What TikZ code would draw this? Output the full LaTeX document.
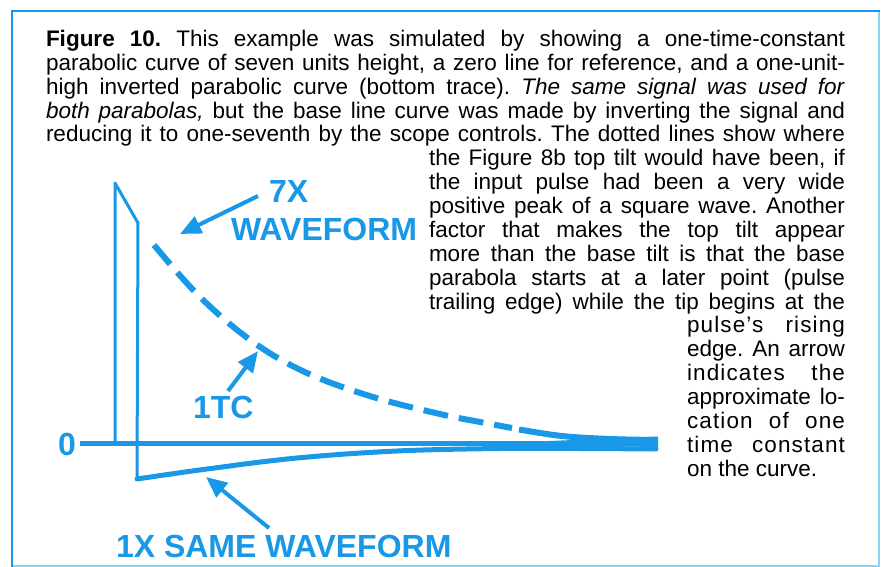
\documentclass[tikz,border=0pt]{standalone}
\usepackage{fontspec}
\setmainfont{Liberation Sans}
\newfontfamily\lsfont[LetterSpace=5]{Liberation Sans}
\usetikzlibrary{arrows.meta}
\definecolor{trace}{RGB}{24,152,230}
\definecolor{framelight}{RGB}{140,208,242}
\frenchspacing
\begin{document}
\begin{tikzpicture}[x=1pt,y=-1pt,
  txt/.style={anchor=base west, inner sep=0pt, outer sep=0pt, font=\fontsize{22.5}{24}\selectfont},
  lbl/.style={anchor=base west, inner sep=0pt, outer sep=0pt, text=trace, font=\fontsize{32}{34}\selectfont\bfseries},
  trc/.style={draw=trace, line width=3pt, line join=round, line cap=round},
  arr/.style={draw=trace, line width=4pt, -{Triangle[length=21pt,width=18pt]}},
]
\useasboundingbox (0,0) rectangle (881,567);
\fill[white] (0,0) rectangle (881,567);
% frame
\draw[framelight, line width=1.5pt] (879,11) -- (879,566) -- (12,566);
\draw[trace, line width=2.5pt] (12,567) -- (12,11) -- (880,11);

% caption, full-width lines
\node[txt] (t0) at (46,46.5)   {\makebox[799pt][s]{\textbf{Figure 10.} This example was simulated by showing a one-time-constant}};
\node[txt] (t1) at (46,70.37)  {\makebox[799pt][s]{parabolic curve of seven units height, a zero line for reference, and a one-unit-}};
\node[txt] (t2) at (46,94.24)  {\makebox[799pt][s]{high inverted parabolic curve (bottom trace). \textit{The same signal was used for}}};
\node[txt] (t3) at (46,118.11) {\makebox[799pt][s]{\textit{both parabolas,} but the base line curve was made by inverting the signal and}};
\node[txt] (t4) at (46,141.98) {\makebox[799pt][s]{reducing it to one-seventh by the scope controls. The dotted lines show where}};
% right column
\node[txt] (t5)  at (429,165.85) {\makebox[416pt][s]{the Figure 8b top tilt would have been, if}};
\node[txt] (t6)  at (429,189.72) {\makebox[416pt][s]{the input pulse had been a very wide}};
\node[txt] (t7)  at (429,213.59) {\makebox[416pt][s]{positive peak of a square wave. Another}};
\node[txt] (t8)  at (429,237.46) {\makebox[416pt][s]{factor that makes the top tilt appear}};
\node[txt] (t9)  at (429,261.33) {\makebox[416pt][s]{more than the base tilt is that the base}};
\node[txt] (t10) at (429,285.2)  {\makebox[416pt][s]{parabola starts at a later point (pulse}};
\node[txt] (t11) at (429,309.07) {\makebox[416pt][s]{trailing edge) while the tip begins at the}};
% narrow column
\node[txt] (t12) at (687,332.94) {\lsfont\makebox[158pt][s]{pulse’s rising}};
\node[txt] (t13) at (687,356.81) {\makebox[158pt][s]{edge. An arrow}};
\node[txt] (t14) at (687,380.68) {\lsfont\makebox[158pt][s]{indicates the}};
\node[txt] (t15) at (687,404.55) {\makebox[158pt][s]{approximate lo-}};
\node[txt] (t16) at (687,428.42) {\lsfont\makebox[158pt][s]{cation of one}};
\node[txt] (t17) at (687,452.29) {\lsfont\makebox[158pt][s]{time constant}};
\node[txt] (t18) at (687,476.16) {on the curve.};

% traces
\coordinate (zl) at (80,443);
\coordinate (zr) at (658,443);
\coordinate (p0) at (115,443);
\coordinate (ptop) at (115,183);
\coordinate (pknee) at (138,223);
\coordinate (pbot) at (137,479);
\draw[trace, line width=5pt] (zl) -- (zr);
\draw[trc] (p0) -- (ptop) -- (pknee) -- (pbot);
\draw[trace, line width=5pt, line cap=round] plot[smooth, tension=0.6] coordinates {(137,479) (207,469) (297,458) (397,451) (500,448.5) (580,448.5) (656,449)};
\draw[trace, line width=6pt, dash pattern=on 25pt off 11pt] plot[smooth, tension=0.6] coordinates {(154,245) (200,297) (253,342) (307,373) (373,397) (440,414) (480,422) (512,428)};
\draw[trace, line width=6pt] plot[smooth, tension=0.6] coordinates {(519,429.5) (562,436) (610,439) (656,440)};
\fill[trace] (525,442) -- (658,436.5) -- (658,447) -- (525,445) -- cycle;

% labels
\node[lbl] (l7x)   at (269,202) {7X};
\node[lbl] (lwave) at (231,240) {WAVEFORM};
\node[lbl] (l1tc)  at (193,418) {1TC};
\node[lbl] (lzero) at (58,455)  {0};
\node[lbl] (l1x)   at (116,557) {1X SAME WAVEFORM};

% arrows
\coordinate (a1tail) at (258,196);
\coordinate (a1tip)  at (180,234);
\coordinate (a2tail) at (228,391);
\coordinate (a2tip)  at (258,351);
\coordinate (a3tail) at (269,528);
\coordinate (a3tip)  at (206,477);
\draw[arr] (a1tail) -- (a1tip);
\draw[arr] (a2tail) -- (a2tip);
\draw[arr] (a3tail) -- (a3tip);
\end{tikzpicture}
\end{document}
